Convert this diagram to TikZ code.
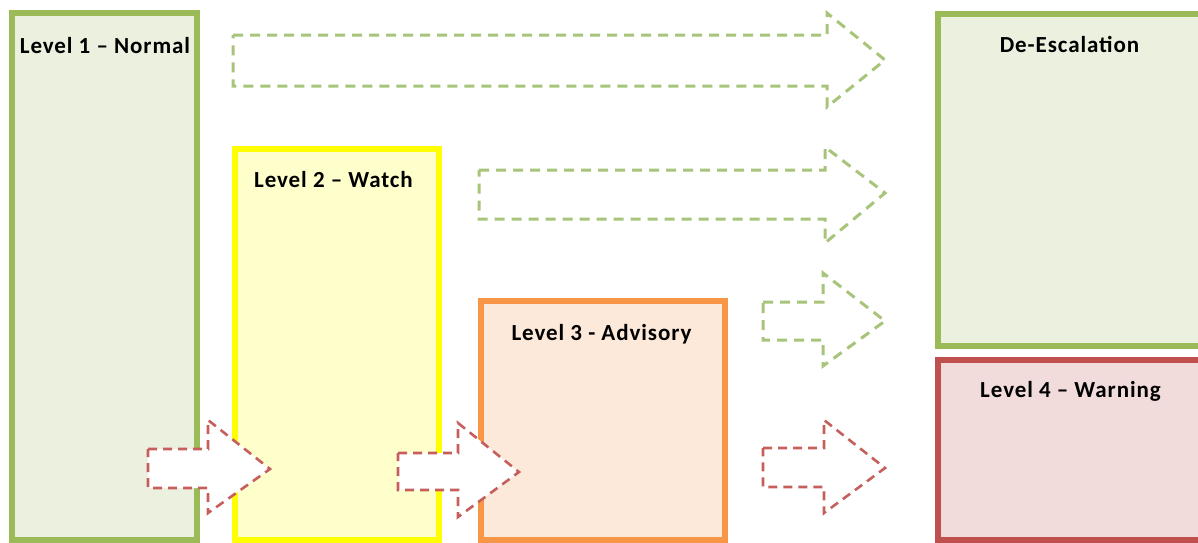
\documentclass[tikz,border=0pt]{standalone}
\usepackage{fontspec}
\setmainfont{Carlito}
\definecolor{gline}{HTML}{9BBB59}
\definecolor{gfill}{HTML}{EBF1DE}
\definecolor{yline}{HTML}{FFFF00}
\definecolor{yfill}{HTML}{FFFFCC}
\definecolor{oline}{HTML}{F79646}
\definecolor{ofill}{HTML}{FDE9D9}
\definecolor{rline}{HTML}{C0504D}
\definecolor{rfill}{HTML}{F2DCDB}
\definecolor{gdash}{HTML}{A8C47A}
\definecolor{rdash}{HTML}{C65F5C}
\begin{document}
\begin{tikzpicture}[x=1pt,y=-1pt,
  levelbox/.style={line width=6pt},
  lvltext/.style={anchor=base,font=\bfseries\fontsize{23}{27}\selectfont\addfontfeatures{LetterSpace=4},inner sep=0pt},
  garrow/.style={draw=gdash,line width=3pt,dash pattern=on 10pt off 7pt,fill=white,line join=miter},
  rarrow/.style={draw=rdash,line width=2.6pt,dash pattern=on 9pt off 6pt,fill=white,line join=miter}]
\useasboundingbox (0,0) rectangle (1198,542);
\clip (0,0) rectangle (1198,542);
% boxes
\draw[levelbox,draw=gline,fill=gfill] (12,13) rectangle (196.5,540);
\draw[levelbox,draw=yline,fill=yfill] (235,148.5) rectangle (438.5,540);
\draw[levelbox,draw=oline,fill=ofill] (480.5,300.5) rectangle (725,540);
\draw[levelbox,draw=gline,fill=gfill] (938,13.5) rectangle (1201,346);
\draw[levelbox,draw=rline,fill=rfill] (938,359.5) rectangle (1201,540);
% labels
\node[lvltext] (l1) at (105,53) {Level 1 – Normal};
\node[lvltext] (l2) at (333.5,187) {Level 2 – Watch};
\node[lvltext] (l3) at (601.5,340) {Level 3 - Advisory};
\node[lvltext] (de) at (1069.5,52) {De-Escalation};
\node[lvltext] (l4) at (1070.5,397) {Level 4 – Warning};
% green arrows
\draw[garrow] (233,35) -- (827,35) -- (827,13) -- (885,60) -- (827,107) -- (827,86) -- (233,86) -- cycle;
\draw[garrow] (479,170) -- (825,170) -- (825,147) -- (885,193) -- (825,243) -- (825,219) -- (479,219) -- cycle;
\draw[garrow] (763,302) -- (823,302) -- (823,273) -- (885,321) -- (823,366) -- (823,340) -- (763,340) -- cycle;
% red arrows
\draw[rarrow] (763,448) -- (824,448) -- (824,420) -- (885,468) -- (824,513) -- (824,487) -- (763,487) -- cycle;
\draw[rarrow] (148,449) -- (208,449) -- (208,420) -- (270,469) -- (208,513) -- (208,488) -- (148,488) -- cycle;
\draw[rarrow] (398,453) -- (458,453) -- (458,423) -- (519,472) -- (458,517) -- (458,490) -- (398,490) -- cycle;
\end{tikzpicture}
\end{document}
